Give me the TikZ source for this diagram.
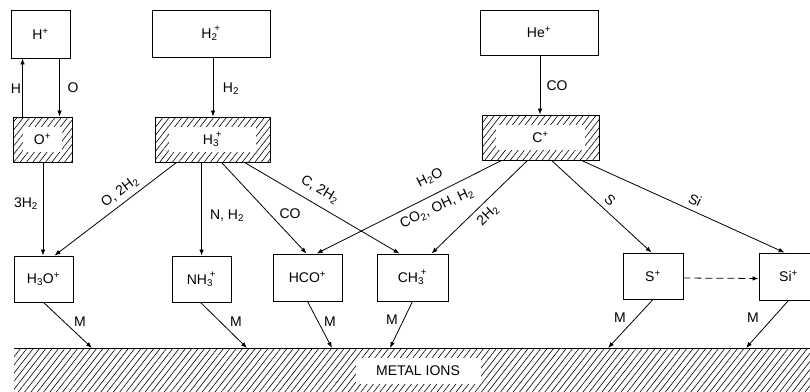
\documentclass[tikz,border=0pt]{standalone}
\usepackage{fontspec}
\setmainfont{Liberation Sans}
\usetikzlibrary{patterns.meta,arrows.meta,calc}
\newcommand\subsup[2]{\textsubscript{#1}\kern-0.22em\raisebox{0.25ex}{\textsuperscript{#2}}}
\begin{document}
\begin{tikzpicture}[x=1pt,y=-1pt,
  every node/.style={font=\fontsize{14}{16}\selectfont, inner sep=0pt},
  box/.style={draw, line width=0.9pt, minimum width=59pt, minimum height=46pt},
  hatchfill/.style={pattern={Lines[angle=52,distance=5pt,line width=0.6pt]}},
  hatchbox/.style={box, path picture={
      \path[hatchfill] (path picture bounding box.south west) rectangle (path picture bounding box.north east);
      \fill[white] ([shift={(#1,-10pt)}]path picture bounding box.north west) rectangle ([shift={(-#1,10pt)}]path picture bounding box.south east);}},
  hatchbox/.default=14pt,
  conn/.style={line width=0.8pt, -{Latex[length=6pt,width=4.5pt]}}
]
\clip (0,0) rectangle (810,391);

% top boxes
\node[box, minimum height=48pt] (Hp) at (40.5,34) {H\textsuperscript{+}};
\node[hatchbox=10pt, minimum height=45pt] (Op) at (42.5,139.5) {O\textsuperscript{+}};
\node[box, minimum width=118pt, minimum height=47pt] (H2p) at (211,33.5) {H\subsup{2}{+}};
\node[hatchbox, minimum width=115pt, minimum height=45pt] (H3p) at (212.5,139.5) {H\subsup{3}{+}};
\node[box, minimum width=118pt, minimum height=45pt] (Hep) at (539,32.5) {He\textsuperscript{+}};
\node[hatchbox, minimum width=117pt, minimum height=45pt] (Cp) at (540.5,137.5) {C\textsuperscript{+}};

% lower boxes
\node[box] (H3Op) at (43.5,279) {H\textsubscript{3}O\textsuperscript{+}};
\node[box] (NH3p) at (201.5,279) {NH\subsup{3}{+}};
\node[box, minimum width=69pt, minimum height=47pt] (HCOp) at (307.5,277.5) {HCO\textsuperscript{+}};
\node[box, minimum width=71pt, minimum height=47pt] (CH3p) at (412.5,277.5) {CH\subsup{3}{+}};
\node[box, minimum width=60pt] (Sp) at (653,276) {S\textsuperscript{+}};
\node[box, minimum height=47pt] (Sip) at (788.5,276.5) {Si\textsuperscript{+}};

% metal ions band
\node[hatchfill, minimum width=806pt, minimum height=52pt, anchor=north west] (metal) at (14,348) {};
\draw[line width=0.9pt] (metal.north west) -- (metal.north east);
\node[fill=white, minimum width=125pt, minimum height=26pt] (mlab) at (418,371) {METAL IONS};

% H+ <-> O+
\draw[conn] ([xshift=10pt]Op.north west) -- ([xshift=12pt]Hp.south west);
\draw[conn] ([xshift=49pt]Hp.south west) -- ([xshift=47pt]Op.north west);
\node (lH) at (16,89) {H};
\node (lO) at (73,88) {O};

% O+ -> H3O+
\draw[conn] ([xshift=0.5pt]Op.south) -- ([xshift=0.5pt]Op.south |- H3Op.north);
\node (l3H2) at (26,204) {3H\textsubscript{2}};

% H2+ -> H3+
\draw[conn] ([xshift=2pt]H2p.south) -- ([xshift=2pt]H2p.south |- H3p.north);
\node (lH2) at (231,89) {H\textsubscript{2}};

% He+ -> C+
\draw[conn] ([xshift=1pt]Hep.south) -- ([xshift=1pt]Hep.south |- Cp.north);
\node (lCO1) at (557,86) {CO};

% from H3+
\draw[conn] ([xshift=22pt]H3p.south west) -- ([xshift=41pt]H3Op.north west);
\node[rotate=37] (lO2H2) at (120,192) {O, 2H\textsubscript{2}};
\draw[conn] ([xshift=47pt]H3p.south west) -- ([xshift=47pt]H3p.south west |- NH3p.north);
\node (lNH2) at (227,216) {N, H\textsubscript{2}};
\draw[conn] ([xshift=67pt]H3p.south west) -- ([xshift=34pt]HCOp.north west);
\node (lCO2) at (290,214) {CO};
\draw[conn] ([xshift=90pt]H3p.south west) -- ([xshift=23pt]CH3p.north west);
\node[rotate=-31] (lC2H2) at (320,190) {C, 2H\textsubscript{2}};

% from C+
\draw[conn] ([xshift=20pt]Cp.south west) -- ([xshift=44pt]HCOp.north west);
\node[rotate=27] (lH2O) at (430,178) {H\textsubscript{2}O};
\node[rotate=25] (lCO2OH) at (437,208) {CO\textsubscript{2}, OH, H\textsubscript{2}};
\draw[conn] ([xshift=46pt]Cp.south west) -- ([xshift=55pt]CH3p.north west);
\node[rotate=44] (l2H2) at (488,215) {2H\textsubscript{2}};
\draw[conn] ([xshift=70pt]Cp.south west) -- ([xshift=29pt]Sp.north west);
\node[rotate=-42] (lS) at (610,200) {S};
\draw[conn] ([xshift=100pt]Cp.south west) -- ([xshift=26pt]Sip.north west);
\node[rotate=-24] (lSi) at (695,200) {Si};

% S+ --> Si+
\draw[conn, dash pattern=on 7pt off 4pt] ([yshift=-2pt]Sp.east) -- ([yshift=-2pt]Sip.west);

% to metal ions
\draw[conn] (H3Op.south) -- ([xshift=78pt]metal.north west);
\node (m1) at (80,322) {M};
\draw[conn] ([xshift=-1pt]NH3p.south) -- ([xshift=233pt]metal.north west);
\node (m2) at (236,322) {M};
\draw[conn] (HCOp.south) -- ([xshift=318pt]metal.north west);
\node (m3) at (330,322) {M};
\draw[conn] (CH3p.south) -- ([xshift=376pt]metal.north west);
\node (m4) at (392,320) {M};
\draw[conn] (Sp.south) -- ([xshift=594pt]metal.north west);
\node (m5) at (620,318) {M};
\draw[conn] (Sip.south) -- ([xshift=732pt]metal.north west);
\node (m6) at (753,318) {M};
\end{tikzpicture}
\end{document}
